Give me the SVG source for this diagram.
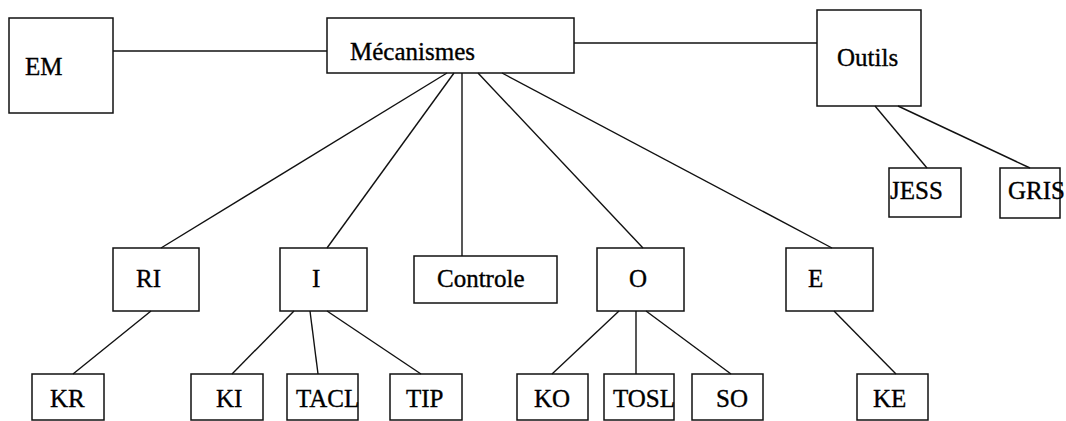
<svg xmlns="http://www.w3.org/2000/svg" width="1066" height="421" viewBox="0 0 1066 421">
<style>
.box{fill:none;stroke:#111;stroke-width:1.5}
line{stroke:#111;stroke-width:1.4}
text{font-family:"Liberation Serif","Times New Roman",serif;font-size:25px;fill:#000;stroke:#000;stroke-width:0.35}
</style>
<rect width="1066" height="421" style="fill:#fff;stroke:none"/>
<g id="connectors">
<line x1="113" y1="51" x2="327" y2="51"/>
<line x1="574" y1="43" x2="817" y2="43"/>
<line x1="875" y1="106" x2="927" y2="168"/>
<line x1="898" y1="106" x2="1030" y2="168"/>
<line x1="447" y1="73" x2="161" y2="248"/>
<line x1="454" y1="73" x2="327" y2="248"/>
<line x1="462" y1="73" x2="462" y2="256"/>
<line x1="478" y1="73" x2="643" y2="248"/>
<line x1="502" y1="73" x2="832" y2="248"/>
<line x1="151" y1="311" x2="73" y2="374"/>
<line x1="294" y1="311" x2="232" y2="374"/>
<line x1="310" y1="311" x2="318" y2="374"/>
<line x1="327" y1="311" x2="421" y2="374"/>
<line x1="619" y1="311" x2="552" y2="374"/>
<line x1="636" y1="311" x2="636" y2="374"/>
<line x1="646" y1="311" x2="731" y2="374"/>
<line x1="834" y1="311" x2="896" y2="374"/>
</g>
<g id="EM"><rect class="box" x="9" y="18" width="104" height="95"/><text x="25" y="75">EM</text></g>
<g id="Mecanismes"><rect class="box" x="327" y="18" width="247" height="55"/><text x="350" y="60">Mécanismes</text></g>
<g id="Outils"><rect class="box" x="817" y="10" width="104" height="96"/><text x="837" y="66">Outils</text></g>
<g id="JESS"><rect class="box" x="889" y="168" width="72" height="49"/><text x="890" y="199">JESS</text></g>
<g id="GRIS"><rect class="box" x="1000" y="168" width="60" height="50"/><text x="1008" y="199">GRIS</text></g>
<g id="RI"><rect class="box" x="113" y="248" width="86" height="63"/><text x="136" y="287">RI</text></g>
<g id="I"><rect class="box" x="280" y="248" width="87" height="63"/><text x="312" y="287">I</text></g>
<g id="Controle"><rect class="box" x="414" y="256" width="143" height="47"/><text x="437" y="287">Controle</text></g>
<g id="O"><rect class="box" x="597" y="248" width="87" height="63"/><text x="629" y="287">O</text></g>
<g id="E"><rect class="box" x="786" y="248" width="87" height="63"/><text x="808" y="287">E</text></g>
<g id="KR"><rect class="box" x="32" y="374" width="72" height="46"/><text x="50" y="407">KR</text></g>
<g id="KI"><rect class="box" x="191" y="374" width="72" height="46"/><text x="216" y="407">KI</text></g>
<g id="TACL"><rect class="box" x="287" y="374" width="71" height="46"/><text x="296" y="407">TACL</text></g>
<g id="TIP"><rect class="box" x="390" y="374" width="72" height="46"/><text x="406" y="407">TIP</text></g>
<g id="KO"><rect class="box" x="517" y="374" width="71" height="46"/><text x="534" y="407">KO</text></g>
<g id="TOSL"><rect class="box" x="604" y="374" width="70" height="46"/><text x="613" y="407">TOSL</text></g>
<g id="SO"><rect class="box" x="692" y="374" width="71" height="46"/><text x="716" y="407">SO</text></g>
<g id="KE"><rect class="box" x="857" y="374" width="71" height="46"/><text x="873" y="407">KE</text></g>
</svg>
